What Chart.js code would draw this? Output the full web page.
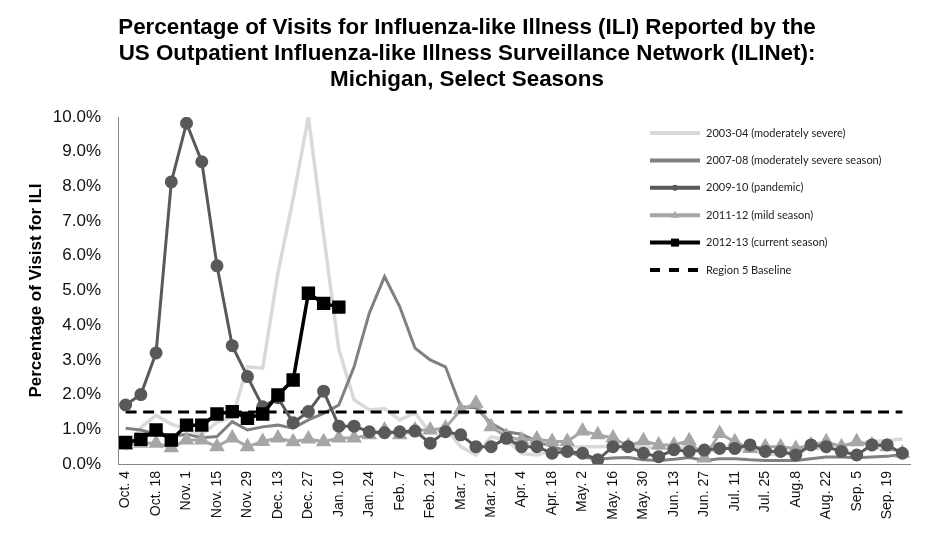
<!DOCTYPE html>
<html>
<head>
<meta charset="utf-8">
<script src="https://cdn.jsdelivr.net/npm/chart.js@4.4.1/dist/chart.umd.min.js"></script>
<style>
  html, body { margin: 0; padding: 0; background: #fff; }
</style>
</head>
<body>
<canvas id="ili" width="934" height="540"></canvas>
<script>
// weeks of the flu season, labelled every other week on the axis
const weeks = [
  'Oct. 4', 'Oct. 11', 'Oct. 18', 'Oct. 25', 'Nov. 1', 'Nov. 8', 'Nov. 15', 'Nov. 22',
  'Nov. 29', 'Dec. 6', 'Dec. 13', 'Dec. 20', 'Dec. 27', 'Jan. 3', 'Jan. 10', 'Jan. 17',
  'Jan. 24', 'Jan. 31', 'Feb. 7', 'Feb. 14', 'Feb. 21', 'Feb. 28', 'Mar. 7', 'Mar. 14',
  'Mar. 21', 'Mar. 28', 'Apr. 4', 'Apr. 11', 'Apr. 18', 'Apr. 25', 'May. 2', 'May. 9',
  'May. 16', 'May. 23', 'May. 30', 'Jun. 6', 'Jun. 13', 'Jun. 20', 'Jun. 27', 'Jul. 4',
  'Jul. 11', 'Jul. 18', 'Jul. 25', 'Aug. 1', 'Aug.8', 'Aug. 15', 'Aug. 22', 'Aug. 29',
  'Sep. 5', 'Sep. 12', 'Sep. 19', 'Sep. 26'
];

// % of visits for ILI
const s0304 = [0.4, 1.05, 1.4, 1.15, 1.0, 0.85, 1.2, 1.35, 2.8, 2.76, 5.5, 7.65, 10.0, 6.6, 3.3, 1.85,
  1.56, 1.6, 1.27, 1.47, 0.9, 1.04, 0.5, 0.26, 0.78, 0.7, 0.3, 0.26, 0.37, 0.48, 0.5, 0.5,
  0.52, 0.5, 0.48, 0.45, 0.45, 0.5, 0.3, 0.45, 0.45, 0.4, 0.3, 0.25, 0.35, 0.45, 0.5, 0.55,
  0.6, 0.65, 0.68, 0.72];
const s0708 = [1.03, 0.98, 0.86, 0.79, 0.86, 0.76, 0.79, 1.22, 0.98, 1.07, 1.12, 1.03, 1.27, 1.46, 1.7, 2.8,
  4.35, 5.4, 4.53, 3.34, 3.0, 2.8, 1.65, 1.62, 1.17, 0.93, 0.86, 0.65, 0.5, 0.37, 0.2, 0.14,
  0.17, 0.19, 0.12, 0.1, 0.14, 0.19, 0.1, 0.15, 0.15, 0.12, 0.1, 0.1, 0.1, 0.15, 0.2, 0.2,
  0.18, 0.2, 0.22, 0.28];
const s0910 = [1.7, 2.0, 3.2, 8.13, 9.82, 8.71, 5.71, 3.41, 2.52, 1.65, 1.91, 1.19, 1.51, 2.1, 1.09, 1.09,
  0.93, 0.9, 0.93, 0.95, 0.6, 0.93, 0.84, 0.5, 0.5, 0.74, 0.5, 0.5, 0.31, 0.36, 0.31, 0.12,
  0.5, 0.5, 0.31, 0.21, 0.41, 0.36, 0.4, 0.45, 0.45, 0.55, 0.36, 0.36, 0.26, 0.55, 0.5, 0.36,
  0.26, 0.55, 0.55, 0.31];
const s1112 = [0.55, 0.6, 0.6, 0.47, 0.69, 0.69, 0.5, 0.75, 0.5, 0.65, 0.75, 0.64, 0.72, 0.64, 0.75, 0.75,
  0.84, 0.98, 0.84, 0.98, 0.98, 1.04, 1.56, 1.75, 1.07, 0.79, 0.69, 0.72, 0.65, 0.65, 0.95, 0.84,
  0.75, 0.52, 0.67, 0.55, 0.55, 0.67, 0.17, 0.88, 0.64, 0.45, 0.5, 0.5, 0.45, 0.55, 0.64, 0.5,
  0.64, 0.55, 0.5, 0.31];
const s1213 = [0.62, 0.71, 0.98, 0.69, 1.12, 1.12, 1.44, 1.51, 1.32, 1.44, 1.99, 2.42, 4.92, 4.63, 4.52];
const baselineValue = 1.5;

const seriesLabels = [
  '2003-04 (moderately severe)',
  '2007-08 (moderately severe season)',
  '2009-10 (pandemic)',
  '2011-12 (mild season)',
  '2012-13 (current season)',
  'Region 5 Baseline'
];

// legend drawn inside the plot, like the original
const insideLegend = {
  id: 'insideLegend',
  afterDraw(chart) {
    const ctx = chart.ctx;
    const x0 = 650, y0 = 133, step = 27.4;
    chart.data.datasets.forEach((ds, i) => {
      const y = y0 + i * step;
      ctx.save();
      ctx.strokeStyle = ds.borderColor;
      ctx.fillStyle = ds.borderColor;
      ctx.lineWidth = 4;
      if (ds.borderDash) ctx.setLineDash([10, 9]);
      ctx.beginPath();
      ctx.moveTo(x0, y);
      ctx.lineTo(x0 + 50, y);
      ctx.stroke();
      ctx.setLineDash([]);
      const cx = x0 + 25;
      if (ds.pointStyle === 'circle' && ds.pointRadius > 0) {
        ctx.beginPath(); ctx.arc(cx, y, 3, 0, Math.PI * 2); ctx.fill();
      } else if (ds.pointStyle === 'triangle') {
        ctx.beginPath(); ctx.moveTo(cx, y - 4.5); ctx.lineTo(cx + 4, y + 2.5); ctx.lineTo(cx - 4, y + 2.5); ctx.closePath(); ctx.fill();
      } else if (ds.pointStyle === 'rect') {
        ctx.fillRect(cx - 4, y - 4, 8, 8);
      }
      ctx.fillStyle = '#222';
      ctx.font = '11px Lato, "Liberation Sans", sans-serif';
      ctx.textBaseline = 'middle';
      ctx.fillText(ds.label, x0 + 56, y);
      ctx.restore();
    });
  }
};

const ctx = document.getElementById('ili').getContext('2d');
const chart = new Chart(ctx, {
  type: 'line',
  data: {
    labels: weeks,
    datasets: [
      { label: seriesLabels[0], data: s0304, borderColor: '#d9d9d9', backgroundColor: '#d9d9d9',
        borderWidth: 3.5, pointRadius: 0, order: 5 },
      { label: seriesLabels[1], data: s0708, borderColor: '#808080', backgroundColor: '#808080',
        borderWidth: 3, pointRadius: 0, order: 4 },
      { label: seriesLabels[2], data: s0910, borderColor: '#595959', backgroundColor: '#595959',
        borderWidth: 3, pointStyle: 'circle', pointRadius: 5, order: 1 },
      { label: seriesLabels[3], data: s1112, borderColor: '#a6a6a6', backgroundColor: '#a6a6a6',
        borderWidth: 3, pointStyle: 'triangle', pointRadius: 6, order: 3 },
      { label: seriesLabels[4], data: s1213, borderColor: '#000', backgroundColor: '#000',
        borderWidth: 3.5, pointStyle: 'rect', pointRadius: 7, order: 0 },
      { label: seriesLabels[5], data: weeks.map(() => baselineValue), borderColor: '#000',
        borderWidth: 3, borderDash: [11, 6.5], pointRadius: 0, order: 2 }
    ]
  },
  options: {
    responsive: false,
    animation: false,
    events: [],
    layout: { padding: 0 },
    elements: { line: { tension: 0, fill: false }, point: { borderWidth: 1 } },
    plugins: {
      legend: { display: false },
      tooltip: { enabled: false },
      title: {
        display: true,
        text: [
          'Percentage of Visits for Influenza-like Illness (ILI) Reported by the',
          'US Outpatient Influenza-like Illness Surveillance Network (ILINet):',
          'Michigan, Select Seasons'
        ],
        color: '#000',
        font: { family: '"Liberation Sans", Arial, sans-serif', size: 22.4, weight: 'bold', lineHeight: 26 / 22.4 },
        padding: { top: 15, bottom: 24 }
      }
    },
    scales: {
      x: {
        offset: true,
        grid: { display: false, drawTicks: false },
        border: { display: true, color: '#868686', width: 1 },
        afterFit(scale) { scale.height = 76; },
        ticks: {
          autoSkip: false, minRotation: 90, maxRotation: 90, padding: 7,
          color: '#111',
          font: { family: '"Liberation Sans", Arial, sans-serif', size: 14 },
          callback: (v, i) => (i % 2 === 0 ? weeks[i] : '')
        }
      },
      y: {
        min: 0, max: 10,
        grid: { display: false, drawTicks: false },
        border: { display: true, color: '#868686', width: 1 },
        afterFit(scale) { scale.width = 118; },
        ticks: {
          stepSize: 1, padding: 17, color: '#111',
          font: { family: '"Liberation Sans", Arial, sans-serif', size: 17 },
          callback: v => v.toFixed(1) + '%'
        },
        title: {
          display: true,
          text: 'Percentage of Visist for ILI',
          color: '#000',
          font: { family: '"Liberation Sans", Arial, sans-serif', size: 17, weight: 'bold' },
          padding: { top: 26, bottom: 0 }
        }
      },
      // empty strip on the right so the title centres on the whole page
      yRight: {
        position: 'right',
        min: 0, max: 10,
        grid: { display: false, drawTicks: false },
        border: { display: false },
        ticks: { display: false },
        afterFit(scale) { scale.width = 24; }
      }
    }
  },
  plugins: [insideLegend]
});
</script>
</body>
</html>
